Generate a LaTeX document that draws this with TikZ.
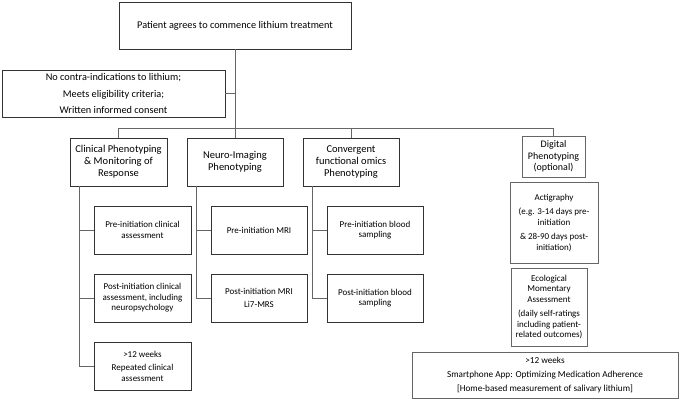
\documentclass[tikz,border=0pt]{standalone}
\usepackage{fontspec}
\setmainfont{Carlito}
\begin{document}
\begin{tikzpicture}[x=1pt,y=-1pt,
  box/.style={draw=black!80,line width=0.9pt,inner sep=1pt,align=center,anchor=center},
  dbox/.style={draw=black!60,line width=0.8pt,inner sep=1pt,align=center,anchor=center},
  conn/.style={draw=black!60,line width=0.8pt},
  big/.style={font=\fontsize{10.3}{16.5}\selectfont},
  head/.style={font=\fontsize{10.5}{12}\selectfont},
  small/.style={font=\fontsize{9}{10.5}\selectfont}]
\useasboundingbox (0,0) rectangle (685,400);
% top-level
\node[box,big,minimum width=232pt,minimum height=47pt] (top) at (235,25.5) {Patient agrees to commence lithium treatment};
\node[box,big,minimum width=223pt,minimum height=47pt] (crit) at (113.5,93.5) {No contra-indications to lithium;\\Meets eligibility criteria;\\Written informed consent};
% category heads
\node[box,head,minimum width=97pt,minimum height=48pt] (clin) at (118.5,162) {Clinical Phenotyping\\\& Monitoring of\\Response};
\node[box,head,minimum width=96pt,minimum height=48pt] (neuro) at (235,162) {Neuro-Imaging\\Phenotyping};
\node[box,head,minimum width=96pt,minimum height=48pt] (conv) at (351,162) {Convergent\\functional omics\\Phenotyping};
\node[dbox,font=\fontsize{10}{11.5}\selectfont,minimum width=63pt,minimum height=41pt] (dig) at (553.5,156.5) {Digital\\Phenotyping\\(optional)};
% clinical children
\node[box,small,minimum width=97pt,minimum height=48pt] (c1) at (142.5,230) {Pre-initiation clinical\\assessment};
\node[box,small,minimum width=97pt,minimum height=48pt] (c2) at (142.5,298) {Post-initiation clinical\\assessment, including\\neuropsychology};
\node[box,small,minimum width=97pt,minimum height=48pt] (c3) at (142.5,366) {>12 weeks\\[3pt]Repeated clinical\\assessment};
% neuro children
\node[box,small,minimum width=96pt,minimum height=48pt] (n1) at (259,230) {Pre-initiation MRI};
\node[box,small,minimum width=96pt,minimum height=48pt] (n2) at (259,298) {Post-initiation MRI\\[3pt]Li7-MRS};
% convergent children
\node[box,small,minimum width=96pt,minimum height=48pt] (v1) at (375,230) {Pre-initiation blood\\sampling};
\node[box,small,minimum width=96pt,minimum height=48pt] (v2) at (375,298) {Post-initiation blood\\sampling};
% digital children
\node[dbox,small,minimum width=88pt,minimum height=81pt] (a1) at (554,222.5) {Actigraphy\\[4pt](e.g. 3-14 days pre-\\initiation\\[4pt]\& 28-90 days post-\\initiation)};
\node[dbox,small,minimum width=76pt,minimum height=78pt] (a2) at (549,307) {Ecological\\Momentary\\Assessment\\[4pt](daily self-ratings\\including patient-\\related outcomes)};
\node[dbox,font=\fontsize{9.2}{14}\selectfont,minimum width=266pt,minimum height=46pt] (a3) at (545,375) {>12 weeks\\Smartphone App: Optimizing Medication Adherence\\{[}Home-based measurement of salivary lithium{]}};
% connectors
\draw[conn] (top.south) -- (neuro.north);
\draw[conn] (crit.east) -- (crit.east -| top.south);
\coordinate (bus) at (0,128);
\draw[conn] (clin.north) -- (clin.north |- bus) -- (dig.north |- bus) -- (dig.north);
\draw[conn] (conv.north) -- (conv.north |- bus);
\coordinate (ct) at ([xshift=10pt]clin.south west);
\coordinate (nt) at ([xshift=10pt]neuro.south west);
\coordinate (vt) at ([xshift=10pt]conv.south west);
\draw[conn] (ct) |- (c3.west);
\draw[conn] (c1.west) -- (c1.west -| ct);
\draw[conn] (c2.west) -- (c2.west -| ct);
\draw[conn] (nt) |- (n2.west);
\draw[conn] (n1.west) -- (n1.west -| nt);
\draw[conn] (vt) |- (v2.west);
\draw[conn] (v1.west) -- (v1.west -| vt);
\end{tikzpicture}
\end{document}
